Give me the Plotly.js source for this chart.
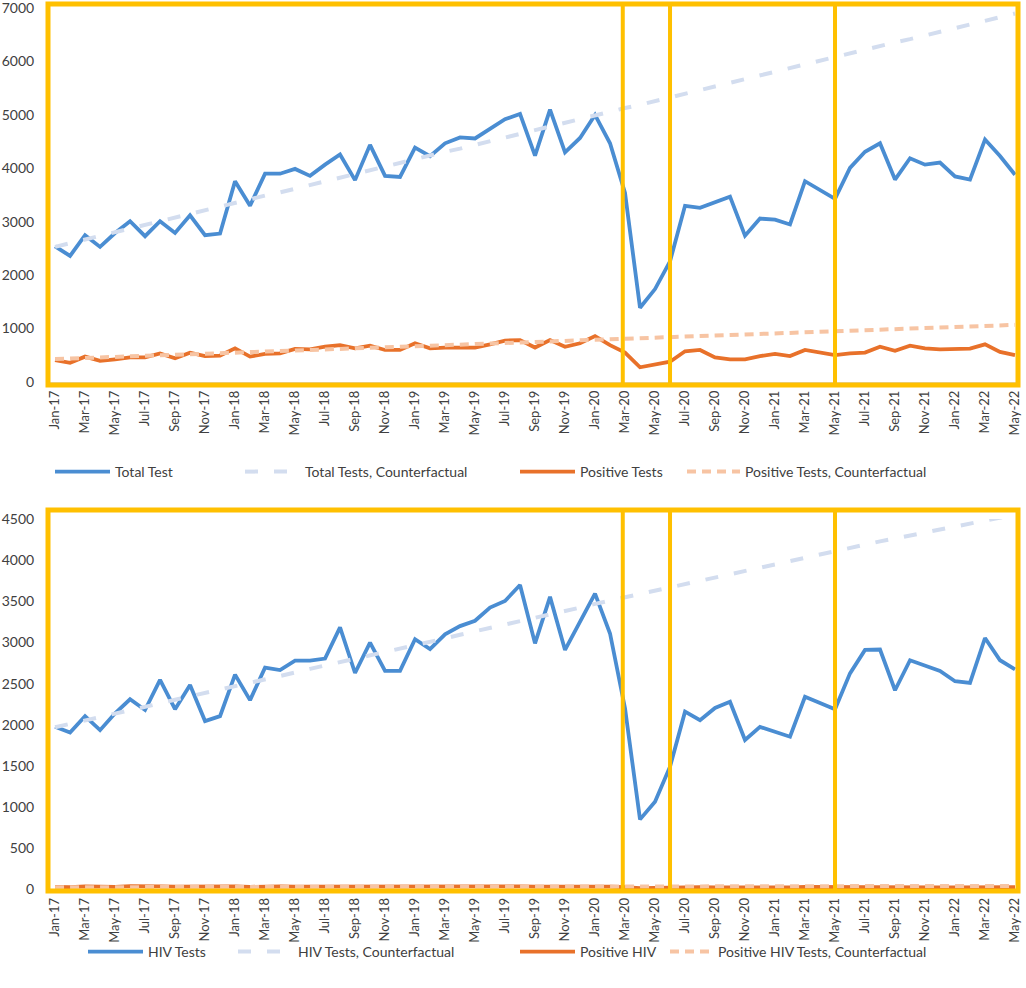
<!DOCTYPE html>
<html>
<head>
<meta charset="utf-8">
<script src="https://cdn.plot.ly/plotly-3.0.1.min.js"></script>
<style>html,body{margin:0;padding:0;background:#fff;}#chart{width:1026px;height:988px;}</style>
</head>
<body>
<div id="chart"></div>
<script>
// ---- categories (months) ----
const months = ["Jan-17","Feb-17","Mar-17","Apr-17","May-17","Jun-17","Jul-17","Aug-17","Sep-17","Oct-17","Nov-17","Dec-17",
"Jan-18","Feb-18","Mar-18","Apr-18","May-18","Jun-18","Jul-18","Aug-18","Sep-18","Oct-18","Nov-18","Dec-18",
"Jan-19","Feb-19","Mar-19","Apr-19","May-19","Jun-19","Jul-19","Aug-19","Sep-19","Oct-19","Nov-19","Dec-19",
"Jan-20","Feb-20","Mar-20","Apr-20","May-20","Jun-20","Jul-20","Aug-20","Sep-20","Oct-20","Nov-20","Dec-20",
"Jan-21","Feb-21","Mar-21","Apr-21","May-21","Jun-21","Jul-21","Aug-21","Sep-21","Oct-21","Nov-21","Dec-21",
"Jan-22","Feb-22","Mar-22","Apr-22","May-22"];
const tickLabels = ["Jan-17","Mar-17","May-17","Jul-17","Sep-17","Nov-17","Jan-18","Mar-18","May-18","Jul-18","Sep-18","Nov-18",
"Jan-19","Mar-19","May-19","Jul-19","Sep-19","Nov-19","Jan-20","Mar-20","May-20","Jul-20","Sep-20","Nov-20",
"Jan-21","Mar-21","May-21","Jul-21","Sep-21","Nov-21","Jan-22","Mar-22","May-22"];
const yTicksTop = [0,1000,2000,3000,4000,5000,6000,7000];
const yTicksBottom = [0,500,1000,1500,2000,2500,3000,3500,4000,4500];

// ---- top panel series ----
const totalTest = [2540,2360,2750,2530,2790,3010,2730,3010,2790,3120,2750,2780,3760,3300,3900,3900,3990,3860,4070,4260,
3780,4440,3860,3840,4390,4230,4470,4580,4560,4740,4920,5020,4240,5100,4300,4570,5000,4470,3540,1390,
1740,2260,3300,3260,3370,3470,2740,3060,3040,2950,3760,3600,3430,4010,4310,4470,3790,4190,4070,4110,
3850,3790,4540,4230,3880];
const totalTestCF = [2530,2600,2670,2730,2800,2870,2940,3010,3080,3150,3210,3280,3350,3420,3490,3550,3620,3690,3760,3830,
3900,3960,4030,4100,4170,4240,4310,4370,4440,4510,4580,4650,4720,4780,4850,4920,4990,5060,5130,5190,
5260,5330,5400,5470,5540,5600,5670,5740,5810,5880,5950,6010,6080,6150,6220,6290,6360,6420,6490,6560,
6630,6700,6770,6830,6900];
const positiveTests = [410,360,475,395,425,460,460,535,445,550,485,495,630,475,525,535,620,610,660,690,
630,680,600,600,725,630,645,645,645,705,775,785,645,785,660,725,860,690,550,275,
320,380,575,600,460,425,425,485,525,485,600,550,505,535,550,660,585,680,630,610,
610,625,705,565,505];
const positiveTestsCF = [430,440,450,460,470,480,490,500,510,520,530,540,550,560,570,580,590,600,610,620,
630,640,650,660,670,680,690,700,710,720,730,740,750,760,770,780,790,800,810,820,
830,840,850,860,870,880,890,900,910,920,930,940,950,960,970,980,990,1000,1010,1020,
1030,1040,1050,1060,1070];

// ---- bottom panel series ----
const hivTests = [1975,1905,2105,1935,2140,2310,2180,2545,2190,2485,2045,2105,2610,2300,2695,2665,2780,2780,2805,3185,
2630,3000,2655,2655,3040,2920,3100,3200,3265,3425,3505,3700,2990,3555,2910,3250,3595,3110,2200,850,
1065,1490,2160,2055,2205,2280,1815,1975,1915,1855,2340,2265,2190,2625,2910,2915,2420,2785,2715,2655,
2530,2510,3055,2785,2675];
const hivTestsCF = [1970,2010,2050,2095,2135,2180,2220,2260,2305,2345,2385,2430,2470,2510,2555,2595,2635,2680,2720,2760,
2800,2845,2885,2925,2970,3010,3050,3095,3135,3175,3220,3260,3300,3345,3385,3425,3470,3510,3550,3590,
3630,3670,3715,3755,3795,3835,3875,3915,3955,3995,4040,4080,4120,4155,4190,4230,4265,4300,4340,4375,
4410,4450,4485,4520,4555];
const positiveHIV = [30,25,35,28,30,38,32,36,33,35,30,32,34,30,36,34,32,33,30,35,
32,34,30,31,33,30,35,36,34,38,40,36,32,34,30,33,35,32,25,15,
18,22,28,26,24,22,20,24,26,22,30,28,25,24,28,26,22,24,20,22,
24,26,32,28,25];
const positiveHIVCF = [25,25,26,26,26,26,27,27,27,27,28,28,28,28,29,29,29,29,30,30,
30,30,31,31,31,31,32,32,32,32,33,33,33,33,34,34,34,34,35,35,
35,35,36,36,36,36,37,37,37,37,38,38,38,38,39,39,39,39,40,40,
40,40,41,41,41];

// ---- styling ----
const BLUE = '#4a8dd2', BLUE_CF = '#d3ddef', ORANGE = '#e8712a', ORANGE_CF = '#f7c4a3', GOLD = '#ffc000';
const FONT = 'Lato, "Open Sans", "DejaVu Sans", sans-serif';
const TXT = '#404040';
const W = 1026, H = 988;
const px = v => v / W;
const py = v => 1 - v / H;

function tr(y, name, color, width, dash, xa, ya, leg) {
  return {x: months, y: y, name: name, type: 'scatter', mode: 'lines',
    line: {color: color, width: width, dash: dash}, xaxis: xa, yaxis: ya, legend: leg, hoverinfo: 'x+y+name'};
}

const data = [
  tr(totalTest, 'Total Test', BLUE, 3.8, 'solid', 'x', 'y', 'legend'),
  tr(totalTestCF, 'Total Tests, Counterfactual', BLUE_CF, 4, '13px,16px', 'x', 'y', 'legend2'),
  tr(positiveTests, 'Positive Tests', ORANGE, 3.8, 'solid', 'x', 'y', 'legend3'),
  tr(positiveTestsCF, 'Positive Tests, Counterfactual', ORANGE_CF, 4, '9px,6px', 'x', 'y', 'legend4'),
  tr(hivTests, 'HIV Tests', BLUE, 3.8, 'solid', 'x2', 'y2', 'legend5'),
  tr(hivTestsCF, 'HIV Tests, Counterfactual', BLUE_CF, 4, '13px,16px', 'x2', 'y2', 'legend6'),
  tr(positiveHIV, 'Positive HIV', ORANGE, 3.8, 'solid', 'x2', 'y2', 'legend7'),
  tr(positiveHIVCF, 'Positive HIV Tests, Counterfactual', ORANGE_CF, 4, '9px,6px', 'x2', 'y2', 'legend8')
];

const xDomain = [px(48), px(1018)];
const xRange = [-0.47, 64.2];
function xAxis(anchor) {
  return {domain: xDomain, anchor: anchor, type: 'category', range: xRange,
    tickmode: 'array', tickvals: tickLabels, ticktext: tickLabels, tickangle: -90,
    showgrid: false, zeroline: false, showline: true, linecolor: '#d9d9d9', linewidth: 1.5,
    ticks: 'outside', ticklen: 2, tickcolor: 'rgba(0,0,0,0)',
    tickfont: {family: FONT, size: 13, color: TXT}};
}
function yAxis(anchor, dom, range, vals) {
  return {domain: dom, anchor: anchor, range: range, tickmode: 'array', tickvals: vals, ticktext: vals.map(String),
    showgrid: false, zeroline: false, showline: false,
    ticks: 'outside', ticklen: 10, tickcolor: 'rgba(0,0,0,0)', ticklabeloverflow: 'allow',
    tickfont: {family: FONT, size: 14, color: TXT}};
}
function legendAt(x, y, iw) {
  return {x: px(x), y: py(y), xanchor: 'left', yanchor: 'middle', orientation: 'h',
    bgcolor: 'rgba(0,0,0,0)', borderwidth: 0, itemwidth: iw || 55,
    font: {family: FONT, size: 14, color: TXT}};
}

function boxShapes(xa, top, bottom) {
  const yTop = py(top), yBot = py(bottom);
  const s = [{type: 'rect', xref: 'paper', yref: 'paper', x0: px(48), x1: px(1018), y0: yBot, y1: yTop,
    line: {color: GOLD, width: 5}, fillcolor: 'rgba(0,0,0,0)', layer: 'above'}];
  [37.85, 41, 52].forEach(v => s.push({type: 'line', xref: xa, yref: 'paper', x0: v, x1: v, y0: yBot, y1: yTop,
    line: {color: GOLD, width: 4}, layer: 'above'}));
  return s;
}

const layout = {
  width: W, height: H,
  margin: {l: 0, r: 0, t: 0, b: 0},
  paper_bgcolor: '#ffffff', plot_bgcolor: '#ffffff',
  showlegend: true,
  xaxis: xAxis('y'),
  yaxis: yAxis('x', [py(382), py(8)], [0, 7003], yTicksTop),
  xaxis2: xAxis('y2'),
  yaxis2: yAxis('x2', [py(889.3), py(519)], [0, 4502], yTicksBottom),
  legend: legendAt(50, 472),
  legend2: legendAt(240, 472),
  legend3: legendAt(515, 472),
  legend4: legendAt(682, 472, 53),
  legend5: legendAt(83, 952),
  legend6: legendAt(233, 952),
  legend7: legendAt(515, 952),
  legend8: legendAt(665, 952, 43),
  shapes: boxShapes('x', 4, 385).concat(boxShapes('x2', 510, 891))
};

Plotly.newPlot('chart', data, layout, {staticPlot: true, displayModeBar: false});
</script>
</body>
</html>
